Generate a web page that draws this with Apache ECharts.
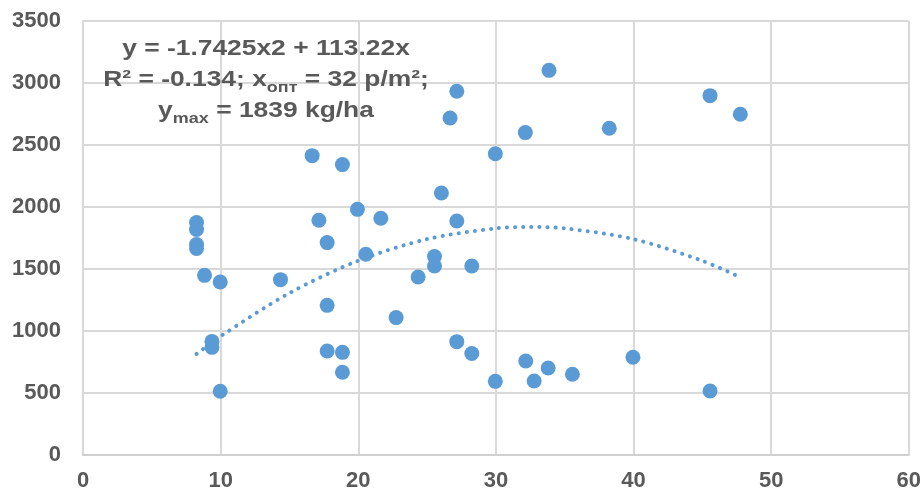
<!DOCTYPE html>
<html lang="en">
<head>
    <meta charset="UTF-8">
    <title>Yield vs density</title>
    <script src="https://cdn.jsdelivr.net/npm/echarts@6/dist/echarts.min.js"></script>
    <style>
        html, body { margin: 0; padding: 0; background: #fff; }
    </style>
</head>
<body>
    <div id="main" style="width: 924px;height:493px;"></div>
</body>
    <script type="text/javascript">
        // plant density, p/m2
        var densX = [16.65, 18.85, 29.96, 26.04, 8.25, 8.25, 8.25, 8.25, 19.94, 17.14, 21.64, 27.16,
            17.74, 20.55, 25.54, 25.54, 28.25, 8.83, 9.97, 14.35, 24.35, 17.74, 22.75, 9.37, 9.37,
            17.74, 18.85, 18.85, 27.16, 28.25, 29.96, 32.17, 32.78, 33.8, 9.97,
            33.86, 45.56, 47.76, 38.24, 27.16, 26.67, 32.14, 35.56, 39.96, 45.56];
        // yield, kg/ha
        var yieldY = [2414, 2342, 2430, 2113, 1875, 1818, 1698, 1666, 1981, 1893, 1909, 1887,
            1713, 1619, 1600, 1524, 1524, 1449, 1395, 1414, 1436, 1207, 1108, 916, 868,
            839, 828, 667, 914, 818, 594, 758, 597, 702, 514,
            3102, 2898, 2748, 2635, 2933, 2718, 2600, 651, 788, 516];

        // polynomial trendline
        var trendX = [8.25, 10, 15, 20, 25, 30, 32.5, 35, 40, 45, 47.8];
        var trendY = [815, 958, 1306, 1567, 1741, 1828, 1839, 1828, 1741, 1566, 1431];

        var xTicks = [0, 10, 20, 30, 40, 50, 60];
        var yTicks = [0, 500, 1000, 1500, 2000, 2500, 3000, 3500];

        // annotation lines
        var noteLines = [
            'y = -1.7425x2 + 113.22x',
            'R² = -0.134; x{sub|опт} = 32 p/m²;',
            'y{sub|max} = 1839 kg/ha'
        ];

        var points = densX.map(function (v, i) { return [v, yieldY[i]]; });
        var trend = trendX.map(function (v, i) { return [v, trendY[i]]; });

        var myChart = echarts.init(document.getElementById('main'));

        var fontFam = '"Liberation Sans", Arial, sans-serif';
        var labelStyle = {
            color: '#595959',
            fontFamily: fontFam,
            fontWeight: 'bold',
            fontSize: 22,
            formatter: function (v) { return String(v); }
        };

        var notes = noteLines.map(function (t, i) {
            return {
                type: 'text',
                x: 266,
                y: 49 + i * 31,
                scaleX: 1.2,
                z: 10,
                style: {
                    text: t,
                    fill: '#595959',
                    font: 'bold 22px ' + fontFam,
                    align: 'center',
                    verticalAlign: 'middle',
                    lineHeight: 31,
                    rich: {
                        sub: {
                            fontSize: 15,
                            fontWeight: 'bold',
                            fontFamily: fontFam,
                            fill: '#595959',
                            verticalAlign: 'bottom',
                            lineHeight: 31
                        }
                    }
                }
            };
        });

        var option = {
            animation: false,
            grid: {
                left: 83,
                right: 15,
                top: 21,
                bottom: 38,
                containLabel: false
            },
            xAxis: {
                type: 'value',
                min: xTicks[0],
                max: xTicks[xTicks.length - 1],
                interval: 10,
                axisLine: { show: true, lineStyle: { color: '#D0D0D0', width: 2 } },
                axisTick: { show: false },
                axisLabel: Object.assign({ margin: 15 }, labelStyle),
                splitLine: { show: true, lineStyle: { color: '#D9D9D9', width: 2 } }
            },
            yAxis: {
                type: 'value',
                min: yTicks[0],
                max: yTicks[yTicks.length - 1],
                interval: 500,
                axisLine: { show: true, lineStyle: { color: '#D9D9D9', width: 2 } },
                axisTick: { show: false },
                axisLabel: Object.assign({ margin: 22 }, labelStyle),
                splitLine: { show: true, lineStyle: { color: '#D9D9D9', width: 2 } }
            },
            graphic: notes,
            series: [
                {
                    type: 'line',
                    data: trend,
                    smooth: 0.3,
                    symbol: 'none',
                    z: 1,
                    lineStyle: {
                        color: '#5B9BD5',
                        width: 4,
                        type: [0.1, 8],
                        cap: 'round'
                    }
                },
                {
                    type: 'scatter',
                    data: points,
                    symbolSize: 15,
                    z: 2,
                    itemStyle: { color: '#5B9BD5', opacity: 1 }
                }
            ]
        };

        myChart.setOption(option);
    </script>
</html>
